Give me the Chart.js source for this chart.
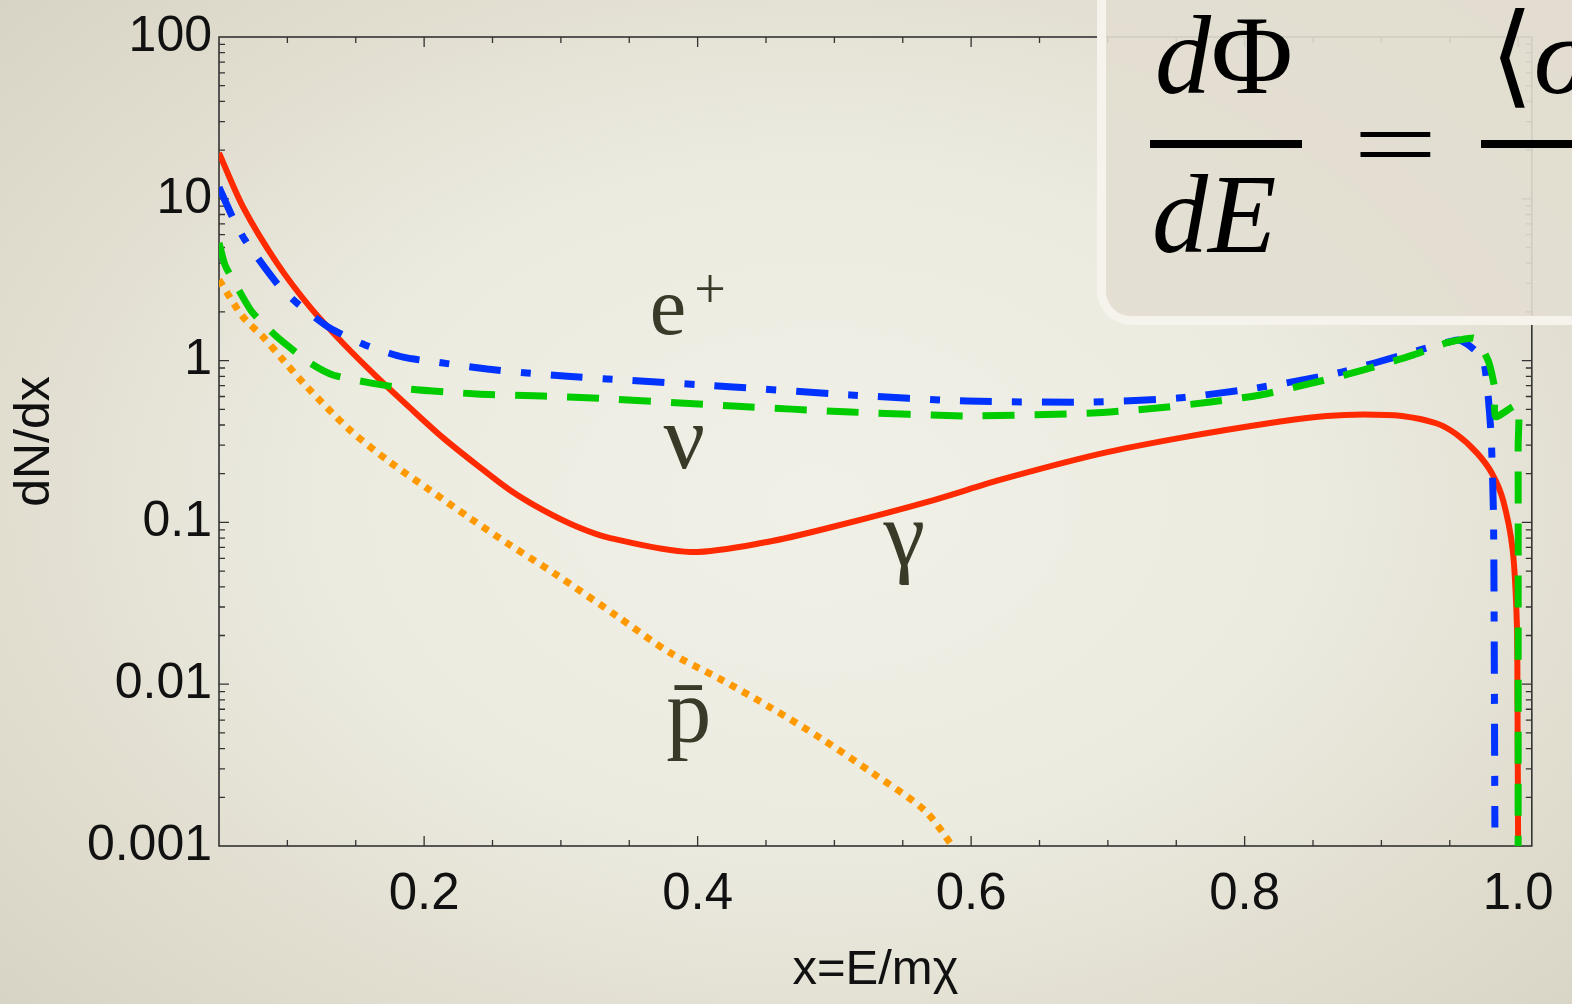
<!DOCTYPE html>
<html>
<head>
<meta charset="utf-8">
<script src="https://cdn.jsdelivr.net/npm/chart.js@4.4.1/dist/chart.umd.min.js"></script>
<style>
  html, body { margin: 0; padding: 0; }
  body {
    width: 1572px; height: 1004px; overflow: hidden; position: relative;
    background: radial-gradient(ellipse 70% 75% at 52% 50%, #f1f0e7 0%, #ecebe0 45%, #dfdbcd 80%, #d8d4c5 100%);
  }
  #myChart { position: absolute; left: 0; top: 0; }
  #panel {
    position: absolute; left: 1097px; top: -40px; width: 520px; height: 365px;
    box-sizing: border-box; border: 9px solid #f5f3ec; border-radius: 34px;
    background: rgba(226, 222, 208, 0.9);
  }
  .eq { position: absolute; font-family: "Liberation Serif", "DejaVu Serif", serif; color: #000; font-size: 112px; line-height: 112px; white-space: nowrap; }
  .bar { position: absolute; background: #000; height: 8px; }
</style>
</head>
<body>
<canvas id="myChart" width="1572" height="1004"></canvas>
<div id="panel"></div>
<div class="eq" style="left:1155px; top:-1px;"><i>d</i>Φ</div>
<div class="bar" style="left:1150px; top:140px; width:152px;"></div>
<div class="eq" style="left:1152px; top:158px;"><i>dE</i></div>
<div class="eq" style="left:1353px; top:95px; font-size:100px; line-height:100px; transform:scaleX(1.5); transform-origin:left top;">=</div>
<div class="eq" style="left:1490px; top:-1px;">⟨<i>σ</i></div>
<div class="bar" style="left:1481px; top:140px; width:100px;"></div>
<script>
// spectra (x = E/m_chi, dN/dx)
const gammaX = [0.05, 0.0676, 0.0924, 0.1166, 0.1407, 0.1656, 0.1897, 0.2139, 0.2387, 0.2629, 0.287, 0.3119, 0.336, 0.3945, 0.4509, 0.499, 0.572, 0.621, 0.694, 0.753, 0.826, 0.86, 0.887, 0.915, 0.94, 0.955, 0.97, 0.981, 0.989, 0.996, 0.999, 0.9995, 1.0];
const gammaY = [19.2, 8.9, 4.0, 2.14, 1.28, 0.79, 0.51, 0.333, 0.226, 0.158, 0.119, 0.094, 0.080, 0.0656, 0.0757, 0.094, 0.137, 0.183, 0.265, 0.333, 0.42, 0.455, 0.465, 0.455, 0.41, 0.35, 0.268, 0.20, 0.137, 0.0675, 0.0246, 0.0088, 0.0009];

const positronX = [0.05, 0.0602, 0.069, 0.0924, 0.107, 0.131, 0.1568, 0.1846, 0.2139, 0.246, 0.2753, 0.3046, 0.3338, 0.426, 0.5116, 0.597, 0.689, 0.751, 0.809, 0.868, 0.923, 0.956, 0.9637, 0.9746, 0.980, 0.982, 0.983];
const positronY = [11.8, 7.6, 5.56, 3.0, 2.27, 1.59, 1.25, 1.05, 0.966, 0.887, 0.838, 0.80, 0.77, 0.687, 0.613, 0.562, 0.554, 0.587, 0.678, 0.838, 1.13, 1.34, 1.25, 1.01, 0.37, 0.104, 0.0013];

const nuX = [0.05, 0.0544, 0.0632, 0.0741, 0.0924, 0.1166, 0.1334, 0.1605, 0.1897, 0.2387, 0.287, 0.3236, 0.426, 0.5116, 0.597, 0.689, 0.736, 0.775, 0.8115, 0.850, 0.887, 0.923, 0.948, 0.9673, 0.971, 0.9785, 0.983, 0.9835, 0.9995, 1.0, 1.0];
const nuY = [5.33, 3.9, 2.85, 2.0, 1.40, 0.967, 0.815, 0.728, 0.667, 0.622, 0.604, 0.587, 0.524, 0.481, 0.455, 0.474, 0.509, 0.555, 0.613, 0.728, 0.875, 1.08, 1.29, 1.38, 1.30, 0.98, 0.66, 0.45, 0.53, 0.3, 0.0009];

const pbarX = [0.05, 0.0676, 0.0822, 0.0968, 0.1144, 0.1458, 0.175, 0.2044, 0.2336, 0.2629, 0.297, 0.342, 0.379, 0.4165, 0.4538, 0.491, 0.528, 0.5657, 0.5848, 0.59];
const pbarY = [3.15, 1.86, 1.40, 1.01, 0.687, 0.372, 0.236, 0.158, 0.106, 0.0724, 0.0473, 0.026, 0.0158, 0.01076, 0.00713, 0.00458, 0.00282, 0.00167, 0.00104, 0.00088];

const yTickValues = [0.001, 0.01, 0.1, 1, 10, 100];
const yTickLabels = ['0.001', '0.01', '0.1', '1', '10', '100'];
const xTickValues = [0.2, 0.4, 0.6, 0.8, 1.0];
const xTickLabels = ['0.2', '0.4', '0.6', '0.8', '1.0'];

// curve labels, placed in data coordinates
const curveLabels = [
  { text: 'e', x: 0.365, y: 1.46, size: 82 },
  { text: '+', x: 0.3975, y: 2.1, size: 56 },
  { text: 'ν', x: 0.375, y: 0.217, size: 92 },
  { text: 'γ', x: 0.536, y: 0.0546, size: 94 },
  { text: 'p\u0304', x: 0.377, y: 0.0044, size: 90 }
];

function toPoints(xs, ys) {
  return xs.map((v, i) => ({ x: v, y: ys[i] }));
}

const frameTicks = {
  id: 'frameTicks',
  beforeDatasetsDraw(chart) {
    const { ctx, chartArea: a, scales: { x, y } } = chart;
    ctx.save();
    ctx.strokeStyle = '#333';
    ctx.lineWidth = 1.6;
    ctx.strokeRect(a.left, a.top, a.right - a.left, a.bottom - a.top);
    ctx.lineWidth = 1.3;
    ctx.beginPath();
    for (let i = 2; i <= 20; i++) {
      const px = x.getPixelForValue(i * 0.05);
      const len = i % 4 === 0 ? 10 : 6;
      ctx.moveTo(px, a.bottom); ctx.lineTo(px, a.bottom - len);
      ctx.moveTo(px, a.top); ctx.lineTo(px, a.top + len);
    }
    for (let e = -3; e <= 1; e++) {
      for (let m = 1; m <= 9; m++) {
        const v = m * Math.pow(10, e);
        if (m === 1 && e === -3) continue;
        const py = y.getPixelForValue(v);
        const len = m === 1 ? 10 : 6;
        ctx.moveTo(a.left, py); ctx.lineTo(a.left + len, py);
        ctx.moveTo(a.right, py); ctx.lineTo(a.right - len, py);
      }
    }
    ctx.stroke();
    ctx.restore();
  }
};

const curveText = {
  id: 'curveText',
  afterDatasetsDraw(chart) {
    const { ctx, scales: { x, y } } = chart;
    ctx.save();
    ctx.fillStyle = '#3a3a28';
    ctx.textAlign = 'left';
    ctx.textBaseline = 'alphabetic';
    curveLabels.forEach(l => {
      ctx.font = l.size + 'px "Liberation Serif", "DejaVu Serif", serif';
      ctx.fillText(l.text, x.getPixelForValue(l.x), y.getPixelForValue(l.y));
    });
    ctx.restore();
  }
};

const ctx = document.getElementById('myChart');
new Chart(ctx, {
  type: 'line',
  data: {
    datasets: [
      { label: 'nu', data: toPoints(nuX, nuY), borderColor: '#00cc00', borderWidth: 7, borderDash: [32, 20], order: 0, tension: 0.2 },
      { label: 'e+', data: toPoints(positronX, positronY), borderColor: '#0033ff', borderWidth: 7, borderDash: [32, 20, 10, 20], order: 1, tension: 0.2 },
      { label: 'pbar', data: toPoints(pbarX, pbarY), borderColor: '#ff9900', borderWidth: 7, borderDash: [7, 7], order: 2, tension: 0.3 },
      { label: 'gamma', data: toPoints(gammaX, gammaY), borderColor: '#ff2a00', borderWidth: 6, order: 3, tension: 0.3 }
    ]
  },
  options: {
    responsive: false,
    animation: false,
    devicePixelRatio: 1,
    layout: { padding: { left: 0, top: 37, right: 39, bottom: 0 } },
    elements: { point: { radius: 0 }, line: { borderCapStyle: 'butt', fill: false } },
    plugins: { legend: { display: false }, tooltip: { enabled: false } },
    scales: {
      x: {
        type: 'linear',
        min: 0.05,
        max: 1.01,
        grid: { display: false, drawTicks: false },
        border: { display: false },
        afterBuildTicks: s => { s.ticks = xTickValues.map(v => ({ value: v })); },
        afterFit: s => { s.height = 158; },
        ticks: {
          padding: 18,
          color: '#111',
          font: { family: '"Liberation Sans", Arial, sans-serif', size: 51 },
          callback: (v, i) => xTickLabels[i]
        },
        title: {
          display: true,
          text: 'x=E/mχ',
          color: '#111',
          padding: { top: 0, bottom: 4 },
          font: { family: '"Liberation Sans", Arial, sans-serif', size: 49 }
        }
      },
      y: {
        type: 'logarithmic',
        min: 0.001,
        max: 100,
        grid: { display: false, drawTicks: false },
        border: { display: false },
        afterBuildTicks: s => { s.ticks = yTickValues.map(v => ({ value: v })); },
        afterFit: s => { s.width = 219; },
        ticks: {
          padding: 7,
          color: '#111',
          font: { family: '"Liberation Sans", Arial, sans-serif', size: 50 },
          callback: (v, i) => yTickLabels[i]
        },
        title: {
          display: true,
          text: 'dN/dx',
          color: '#111',
          padding: { top: 5, bottom: 0 },
          font: { family: '"Liberation Sans", Arial, sans-serif', size: 50 }
        }
      }
    }
  },
  plugins: [frameTicks, curveText]
});
</script>
</body>
</html>
